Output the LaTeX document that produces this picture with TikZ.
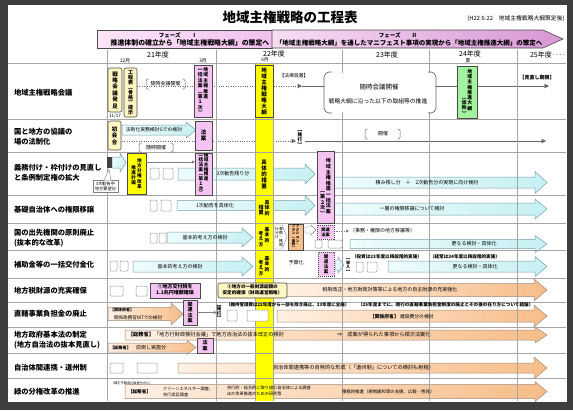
\documentclass[tikz,border=0pt]{standalone}
\usepackage{fontspec}
\setmainfont{Noto Sans CJK JP}
\usetikzlibrary{arrows.meta}
\definecolor{pagebg}{HTML}{3E3E3E}
\definecolor{bord}{HTML}{4A4A4A}
\definecolor{ylbox}{HTML}{FFF6C4}
\definecolor{pinkbox}{HTML}{F6C4F2}
\definecolor{yel}{HTML}{FFFF00}
\definecolor{grn}{HTML}{A4F2A0}
\definecolor{orbx}{HTML}{F7BF8A}
\definecolor{cyanL}{HTML}{EEFCFC}
\definecolor{cyanR}{HTML}{C6F0F3}
\definecolor{cyanbd}{HTML}{7A9EAD}
\definecolor{orL}{HTML}{FFF1E4}
\definecolor{orR}{HTML}{F7BD88}
\definecolor{orbd}{HTML}{A08A7A}
\definecolor{ph1L}{HTML}{FCE6F8}
\definecolor{ph1R}{HTML}{F2C0EE}
\definecolor{ph2L}{HTML}{F7DDF3}
\definecolor{ph2R}{HTML}{D796D4}
\makeatletter
\newcommand\Vt[2]{\vtop{\baselineskip=#1\lineskiplimit=-20pt\lineskip=0pt\@tfor\vt@c:=#2\do{\hbox to 1em{\hss\vt@c\hss}}}}
\makeatother
\newcommand\fsz[1]{\fontsize{#1}{#1}\selectfont}
\newcommand\fsk[2]{\fontsize{#1}{#2}\selectfont}
\newcommand\barrow[7]{\path[#1] (#2,#4-#5) -- (#3-#7,#4-#5) -- (#3-#7,#4-#6) -- (#3,#4) -- (#3-#7,#4+#6) -- (#3-#7,#4+#5) -- (#2,#4+#5) -- cycle;}
\newcommand\bx[7]{\node[#1,minimum width={#5-#3},minimum height={#6-#4}] (#2) at ({(#3+#5)/2},{(#4+#6)/2}) {#7};}
\newcommand\brkt[4]{\draw[brkst] ({#1+2.5},#3) -- (#1,#3) -- (#1,#4) -- ({#1+2.5},#4); \draw[brkst] ({#2-2.5},#3) -- (#2,#3) -- (#2,#4) -- ({#2-2.5},#4);}
\tikzset{
 every node/.style={inner sep=0pt,outer sep=0pt},
 cyanar/.style={draw=cyanbd,line width=.5pt,left color=cyanL,right color=cyanR},
 orar/.style={draw=orbd,line width=.5pt,left color=orL,right color=orR},
 whitear/.style={draw=gray,line width=.4pt,fill=white},
 ybox/.style={draw=bord,fill=ylbox,line width=.6pt,rounded corners=2pt},
 pbox/.style={draw=bord,fill=pinkbox,line width=.8pt},
 pdbox/.style={draw=bord,fill=pinkbox,line width=.5pt,dash pattern=on 1.2pt off .8pt,align=center},
 yelbox/.style={draw=bord,fill=yel,line width=.8pt},
 gbox/.style={draw=bord,fill=grn,line width=.8pt},
 orbox/.style={draw=bord,fill=orbx,line width=.6pt},
 ebox/.style={draw=gray!80,line width=.5pt,rounded corners=1pt,fill=white},
 dotline/.style={draw=gray!80!black,line width=1pt,dash pattern=on 1pt off 1.4pt},
 solidline/.style={draw=gray!80!black,line width=.9pt},
 thinarrow/.style={draw=gray,line width=.5pt,-{Triangle[length=3pt,width=3pt]}},
 arrT/.style={-{Triangle[length=4.5pt,width=4.5pt]}},
 brkst/.style={draw=gray!80!black,line width=.5pt,rounded corners=1.5pt},
 gridh/.style={draw=gray!70,line width=.9pt},
 gridv/.style={draw=gray!70,line width=.7pt},
 lbl/.style={anchor=west,font=\bfseries\fsk{7.3}{10},align=left},
}
\begin{document}
\begin{tikzpicture}[x=1pt,y=-1pt]
\useasboundingbox (0,0) rectangle (573,410);
\fill[pagebg] (0,0) rectangle (573,410);
\fill[white] (8,5) rectangle (567,402);
% title
\node[font=\bfseries\fsz{13.5}] (title) at (290,17) {地域主権戦略の工程表};
\node[font=\fsz{5.8}] (subt) at (516,19) {(H22.6.22　地域主権戦略大綱策定後)};
% phases
\path[draw=bord,line width=.6pt,left color=ph1L,right color=ph1R] (97,30) rectangle (272,48);
\path[draw=bord,line width=.6pt,left color=ph2L,right color=ph2R] (272,30) -- (543,30) -- (563,39) -- (543,48) -- (272,48) -- cycle;
\node[font=\bfseries\fsz{5.5}] (ph1a) at (178,35) {フェーズ　　Ⅰ};
\node[font=\bfseries\fsz{6.9}] (ph1b) at (190,43) {推進体制の確立から「地域主権戦略大綱」の策定へ};
\node[font=\bfseries\fsz{5.5}] (ph2a) at (398,35) {フェーズ　　Ⅱ};
\node[font=\bfseries\fsz{6.5}] (ph2b) at (409,43) {「地域主権戦略大綱」を通したマニフェスト事項の実現から「地域主権推進大綱」の策定へ};
% header
\node[font=\fsz{7}] (fy21) at (158,55) {21年度};
\node[font=\fsz{4.8}] (m12) at (125,60.5) {12月};
\node[font=\fsz{4.8}] (m3) at (203,60.5) {3月};
\node[font=\fsz{7}] (fy22) at (274,53.5) {22年度};
\node[font=\fsz{4.8}] (m6) at (265,60) {6月};
\node[font=\fsz{7}] (fy23) at (387,55) {23年度};
\node[font=\fsz{7}] (fy24) at (470,54) {24年度};
\node[font=\fsz{4.8}] (m24) at (468,60.5) {夏};
\node[font=\fsz{7},anchor=west] (fy25) at (530,55) {25年度‥‥};
% block arrows
\barrow{cyanar}{122}{196}{130}{5}{8}{10}
\barrow{cyanar}{112}{126}{162.5}{5.5}{9.5}{6}
\barrow{cyanar}{178}{315}{174}{6}{10}{10}
\barrow{cyanar}{334}{547}{182.5}{5.5}{11}{12}
\barrow{cyanar}{177}{315}{205.5}{5}{10}{10}
\barrow{cyanar}{334}{547}{209}{6}{10}{12}
\barrow{cyanar}{167}{253}{237.5}{5.5}{9.5}{11}
\barrow{cyanar}{350}{547}{244}{4.5}{8.5}{12}
\barrow{cyanar}{133}{253}{266.5}{5.5}{9.5}{11}
\barrow{cyanar}{335}{344}{265}{5}{8}{6}
\barrow{cyanar}{388}{547}{266.5}{5.5}{10}{12}
\barrow{whitear}{305}{316}{230}{3}{5}{5}
\path[whitear] (274,225) -- (282,225) -- (287,237) -- (282,249) -- (274,249) -- cycle;
\barrow{orar}{285}{547}{290}{6.5}{11}{13}
\barrow{orar}{108}{183}{314}{6.5}{11}{12}
\barrow{orar}{277}{547}{316}{6}{11}{13}
\barrow{orar}{125}{547}{335}{5}{8}{12}
\barrow{orar}{108}{196}{347.5}{4.5}{7}{9}
\barrow{orar}{178}{547}{368}{5}{11}{13}
\barrow{orar}{125}{547}{391.5}{7}{10}{12}
% connectors drawn under columns and boxes
\coordinate (r1dA) at (137,86); \coordinate (r1dB) at (302,86); \coordinate (r1bL) at (324,86);
\draw[dotline,arrT] (r1dA) -- (r1dB);
\draw[solidline] (r1dB) -- (r1bL);
\coordinate (r1bR) at (436,86); \coordinate (r1tip) at (549,86);
\draw[solidline,arrT] (r1bR) -- (r1tip);
\coordinate (r2dA) at (122,141); \coordinate (r2dB) at (296,141);
\draw[dotline,arrT] (r2dA) -- (r2dB);
\coordinate (r2lA) at (305,141); \coordinate (r2lB) at (546,141);
\draw[solidline,arrT] (r2lA) -- (r2lB);
\coordinate (r5dA) at (336,231); \coordinate (r5dB) at (349,231);
\draw[draw=gray,line width=.6pt,dash pattern=on 1.5pt off 1pt,-{Triangle[length=3pt,width=3pt]}] (r5dA) -- (r5dB);
% yellow column
\fill[yel] (255,63) rectangle (273,401);
\draw[gridv] (255,63) -- (255,401) (273,63) -- (273,401);
% grid
\foreach \yy in {63,119,152,195,223,250,278,302,327,353,378} \draw[gridh] (8,\yy) -- (566,\yy);
\foreach \xx in {107,216,342,429,517} \draw[gridv] (\xx,50) -- (\xx,401);
% row labels
\node[lbl] (L1) at (14,93) {地域主権戦略会議};
\node[lbl] (L2) at (14,136.5) {国と地方の協議の\\場の法制化};
\node[lbl] (L3) at (14,173) {義務付け・枠付けの見直し\\と条例制定権の拡大};
\node[lbl] (L4) at (14,210) {基礎自治体への権限移譲};
\node[lbl] (L5) at (14,238.5) {国の出先機関の原則廃止\\(抜本的な改革)};
\node[lbl] (L6) at (14,265) {補助金等の一括交付金化};
\node[lbl] (L7) at (14,291) {地方税財源の充実確保};
\node[lbl] (L8) at (14,314) {直轄事業負担金の廃止};
\node[lbl] (L9) at (14,340.5) {地方政府基本法の制定\\(地方自治法の抜本見直し)};
\node[lbl] (L10) at (14,368) {自治体間連携・道州制};
\node[lbl] (L11) at (14,392) {緑の分権改革の推進};
% row 1
\fill[white] (325,73) rectangle (435,112);
\draw[brkst,line width=.7pt,rounded corners=5pt] (332,72) -- (324,72) -- (324,113) -- (332,113);
\draw[brkst,line width=.7pt,rounded corners=5pt] (428,72) -- (436,72) -- (436,113) -- (428,113);
\bx{ybox}{r1a}{108}{68}{122}{112}{\fsz{5.5}\bfseries\Vt{6.4pt}{戦略会議発足}}
\node[font=\fsz{4.5}] (d1117) at (115,116) {11/17};
\bx{ybox}{r1b}{124}{68}{137}{117}{\fsz{5}\bfseries\Vt{5pt}{工程表︵骨格︶提示}}
\brkt{146}{185}{79}{89}
\node[font=\fsz{5}] (r1c) at (165.5,84) {随時会議開催};
\bx{pbox}{r1p}{194}{65}{212}{117}{\fsz{4.8}\bfseries\Vt{5.4pt}{一括法案︵第１次︶}\kern.8pt\Vt{5.4pt}{地域主権推進}}
\bx{yelbox}{r1y}{255}{65}{273}{117}{\fsz{5.5}\bfseries\Vt{6pt}{地域主権戦略大綱}}
\node[font=\fsz{4.8}] (r1law) at (294,76) {【法律設置】};
\node[font=\fsz{6.5}] (r1t1) at (379,87) {随時会議開催};
\node[font=\fsz{5.8}] (r1t2) at (378,101) {戦略大綱に沿った以下の取組等の推進};
\bx{gbox}{r1g}{457}{66}{477}{118}{\fsz{4.8}\bfseries\lower26pt\Vt{5.3pt}{︵仮称︶}\kern.8pt\Vt{5.3pt}{地域主権推進大綱}}
\node[font=\bfseries\fsz{5}] (r1mn) at (537,78) {【見直し期限】};
% row 2
\bx{ybox}{r2a}{108}{121}{121}{150}{\fsz{5.5}\bfseries\Vt{6.5pt}{初会合}}
\node[font=\fsz{4.8}] (r2t) at (154,130) {法制化実務検討Gでの検討};
\brkt{139}{173}{143}{152}
\node[font=\fsz{5}] (r2c) at (156,147.5) {随時開催};
\bx{pbox}{r2p}{195}{121}{212}{150}{\fsz{5.5}\bfseries\Vt{6.5pt}{法案}}
\node[font=\bfseries\fsz{4.6}] (r2s) at (300,138) {\Vt{5pt}{︻施行︼}};
\brkt{365}{400}{129}{139}
\node[font=\fsz{5}] (r2k) at (383,134) {開催};
% row 3
\fill[darkgray] (107,157) rectangle (112,168);
\node[draw=gray,fill=white,line width=.4pt,font=\fsk{4.2}{5},align=center,minimum width=25pt,minimum height=12pt] (r3call) at (105.5,186.5) {3次勧告中\\地方要望分};
\fill[white] (104,180.7) -- (109,169) -- (111,180.7) -- cycle;
\draw[gray,line width=.4pt] (104,180.5) -- (109,169) -- (111,180.5);
\bx{yelbox}{r3y}{127}{153}{146}{194}{\fsz{4.6}\bfseries\lower7pt\Vt{5.2pt}{推進計画}\kern1pt\Vt{5.2pt}{地方分権改革}}
\draw[ebox] (150,168) rectangle (159,179);
\draw[ebox] (163,168) rectangle (173,179);
\node[font=\fsz{5}] (r3t) at (233,174) {3次勧告残り分};
\bx{pbox}{r3p}{195}{153}{212}{195}{\fsz{4.6}\bfseries\Vt{4.7pt}{一括法案︵第１次︶}\kern.8pt\Vt{4.7pt}{地域主権推進}}
\draw[thinarrow] (r3y.east |- 0,162) -- (r3p.west |- 0,162);
\node[font=\fsz{5.5}\bfseries] (y3) at (264,174) {\Vt{6pt}{具体的措置}};
\bx{pbox}{r34p}{317}{151}{334}{223}{\fsz{5}\bfseries\lower30pt\Vt{5.6pt}{︵第２次︶}\kern.8pt\Vt{5.6pt}{地域主権推進一括法案}}
\node[font=\fsz{5}] (r3rt) at (427,182.5) {積み残し分　＋　2次勧告分の実現に向け検討};
% row 4
\draw[ebox] (150,200) rectangle (157,211);
\draw[ebox] (161,200) rectangle (171,211);
\node[font=\fsz{5}] (r4t) at (215,205.5) {1次勧告を具体化};
\node[font=\fsz{5}\bfseries] (y4) at (264,208) {\lower5pt\Vt{5.5pt}{措置}\kern1pt\Vt{5.5pt}{具体的}};
\node[font=\fsz{5}] (r4rt) at (412,209) {一層の権限移譲について検討};
% row 5
\draw[ebox] (150,233) rectangle (157,243);
\draw[ebox] (159,233) rectangle (166,243);
\node[font=\fsz{5}] (r5t) at (205,237.5) {基本的考え方の検討};
\node[font=\fsz{4.8}\bfseries] (y5) at (264,237) {\lower4pt\Vt{5.2pt}{考え方}\kern1pt\Vt{5.2pt}{基本的}};
\node[font=\fsz{3.8}] (r5w) at (279,237) {\Vt{4.2pt}{仕分け}\Vt{4.2pt}{事務・権限}};
\bx{orbox}{r5o}{288}{224}{303}{250}{\fsz{3.5}\bfseries\Vt{3.6pt}{プラン︵仮称︶}\kern.5pt\Vt{3.6pt}{アクション・}}
\bx{pdbox,font=\bfseries\fsk{4.2}{5}}{r5k}{317}{225}{334}{239}{関連\\法案}
\node[anchor=west,font=\fsz{5}] (r5t2) at (350,231) {（事務・権限の地方移譲等）};
\draw[ebox] (315,240) rectangle (322,248);
\draw[ebox] (328,240) rectangle (342,248);
\node[font=\fsz{5}] (r5rt) at (474,244) {更なる検討・具体化};
% row 6
\draw[ebox] (110,261) rectangle (117,271);
\draw[ebox] (120,261) rectangle (128,271);
\node[font=\fsz{5}] (r6t) at (180,266.5) {基本的考え方の検討};
\node[font=\fsz{4.8}\bfseries] (y6) at (264,266) {\lower4pt\Vt{5.2pt}{考え方}\kern1pt\Vt{5.2pt}{基本的}};
\node[font=\fsz{5}] (r6b) at (296,263) {予算化};
\bx{pdbox}{r6k}{318}{252}{334}{276}{\fsz{4.5}\bfseries\Vt{5pt}{関連法案}}
\node[font=\fsz{4}\bfseries] (r6d) at (348,266) {\Vt{4.4pt}{︻導入︼}};
\node[anchor=west,font=\fsz{4.6}\bfseries] (r6n1) at (352,257) {（投資は23年度以降段階的実施）};
\node[anchor=west,font=\fsz{4.6}\bfseries] (r6n2) at (430,257) {（経常は24年度以降段階的実施）};
\draw[ebox] (356,262) rectangle (363,272);
\draw[ebox] (367,262) rectangle (377,272);
\node[font=\fsz{5}] (r6rt) at (475,266.5) {更なる検討・具体化};
% row 7
\draw[ebox] (110,286) rectangle (123,296);
\draw[ebox] (136,286) rectangle (147,296);
\bx{pbox}{r7p}{150}{283}{200}{298}{\fsk{5}{6}\bfseries\begin{tabular}{@{}c@{}}①地方交付税を\\1.1兆円増額確保\end{tabular}}
\bx{ybox}{r7y}{218}{283}{287}{298}{\fsk{4.6}{6}\bfseries\begin{tabular}{@{}c@{}}②地方の一般財源総額の\\安定的確保（財政運営戦略）\end{tabular}}
\node[font=\fsz{5}] (r7t) at (390,290) {税制改正・地方財政対策等による地方の自主財源の充実強化};
% row 8
\node[anchor=west,font=\bfseries\fsz{4}] (r8a) at (110,310) {【関係府省】};
\node[anchor=west,font=\fsz{4.6}] (r8b) at (114,317.5) {関係政務官WTでの検討};
\bx{pbox}{r8p}{183}{300}{197}{325}{\fsz{5}\bfseries\Vt{5.5pt}{関連法案}}
\node[font=\bfseries\fsz{4.5}] (r8s) at (219,312.5) {\Vt{4.6pt}{︻施行︼}};
\draw[thinarrow] (r8p.east) -- (r8s.west);
\node[anchor=west,font=\bfseries\fsz{4.5}] (r8n1) at (226,305) {（維持管理費は22年度から一部を除き廃止、23年度に全廃）};
\draw[ebox] (227,310) rectangle (237,321);
\draw[ebox] (247,310) rectangle (268,321);
\node[anchor=west,font=\bfseries\fsz{4.6}] (r8n2) at (358,305) {（25年度までに、現行の直轄事業負担金制度の廃止とその後の在り方について結論）};
\node[anchor=west,font=\bfseries\fsz{4.8}] (r8c) at (370,317) {【関係府省】};
\node[anchor=west,font=\fsz{4.8}] (r8d) at (400,317) {建設費分の検討};
% row 9
\node[anchor=west,font=\fsz{5.2}] (r9a) at (128,335) {\textbf{【総務省】}「地方行財政検討会議」で地方自治法の抜本改正の検討};
\node[anchor=west,font=\fsz{5.2}] (r9b) at (337,335) {⇒　成案が得られた事項から順次法案化};
\node[anchor=west,font=\bfseries\fsz{4.2}] (r9c) at (110,347.5) {【総務省】};
\node[anchor=west,font=\fsz{5}] (r9d) at (136,347.5) {前倒し実施分};
\bx{pbox}{r9p}{197}{338}{213}{353}{\fsz{5}\bfseries\Vt{5.8pt}{法案}}
% row 10
\draw[ebox] (110,363) rectangle (123,373);
\draw[ebox] (137,363) rectangle (157,373);
\node[anchor=west,font=\fsz{5.2}] (r10t) at (273,368) {自治体間連携等の自発的な形成（「道州制」についての検討も射程）};
% row 11
\node[anchor=west,font=\fsz{3.2}] (r11a) at (111,383) {（補正予算成立後速やかに）};
\node[anchor=west,font=\bfseries\fsz{4.6}] (r11b) at (128,392) {【総務省】};
\node[anchor=west,font=\fsk{4.2}{6.5},align=left] (r11c) at (163,392) {クリーンエネルギー調査、\\先行実証調査};
\node[anchor=west,font=\fsk{4.2}{6},align=left] (r11d) at (227,391) {先行的・総合的に取り組む自治体による調査\\ほか改革推進のための研究等};
\node[anchor=west,font=\fsz{4.4}] (r11e) at (342,392) {積極的推進（規制緩和等の支援、広報・啓発）};
\end{tikzpicture}
\end{document}
